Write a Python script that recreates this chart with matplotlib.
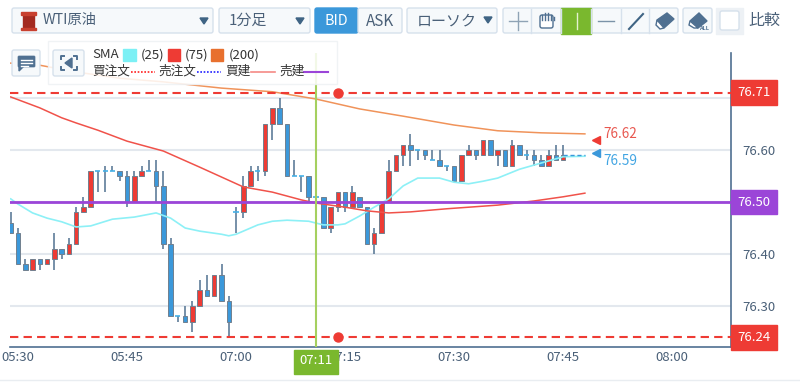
from matplotlib import pyplot as plt
from matplotlib.patches import Rectangle, FancyBboxPatch, Polygon

plt.rcParams['font.family'] = ['Noto Sans CJK JP', 'DejaVu Sans']

# candles, first one is index -1
start_index = -1
opens = [76.46, 76.44, 76.38, 76.37, 76.39, 76.38, 76.39, 76.41, 76.40, 76.42,
         76.48, 76.49, 76.56, 76.56, 76.56, 76.56, 76.55, 76.50, 76.55, 76.56,
         76.56, 76.53, 76.42, 76.28, 76.28, 76.27, 76.30, 76.33, 76.32, 76.36,
         76.31, 76.48, 76.48, 76.53, 76.56, 76.56, 76.65, 76.68, 76.65, 76.55,
         76.55, 76.55, 76.51, 76.51, 76.45, 76.49, 76.52, 76.49, 76.51, 76.49,
         76.42, 76.44, 76.50, 76.56, 76.59, 76.61, 76.60, 76.60, 76.58, 76.58,
         76.57, 76.57, 76.54, 76.59, 76.60, 76.59, 76.62, 76.59, 76.60, 76.57,
         76.61, 76.59, 76.59, 76.58, 76.57, 76.59, 76.58]
closes = [76.44, 76.38, 76.37, 76.39, 76.38, 76.39, 76.41, 76.40, 76.42, 76.48,
          76.49, 76.56, 76.56, 76.56, 76.56, 76.55, 76.50, 76.55, 76.56, 76.56,
          76.53, 76.42, 76.28, 76.28, 76.27, 76.30, 76.33, 76.32, 76.36, 76.31,
          76.27, 76.48, 76.53, 76.56, 76.56, 76.65, 76.68, 76.65, 76.55, 76.55,
          76.55, 76.51, 76.51, 76.45, 76.49, 76.52, 76.49, 76.52, 76.49, 76.42,
          76.44, 76.50, 76.56, 76.59, 76.61, 76.60, 76.60, 76.59, 76.58, 76.57,
          76.57, 76.54, 76.59, 76.60, 76.59, 76.62, 76.59, 76.60, 76.57, 76.61,
          76.59, 76.59, 76.58, 76.57, 76.59, 76.58, 76.59]
highs = [76.48, 76.45, 76.39, 76.39, 76.39, 76.39, 76.44, 76.41, 76.43, 76.49,
         76.51, 76.56, 76.56, 76.57, 76.57, 76.56, 76.56, 76.56, 76.57, 76.58,
         76.58, 76.56, 76.43, 76.28, 76.30, 76.31, 76.35, 76.36, 76.36, 76.38,
         76.32, 76.49, 76.55, 76.57, 76.57, 76.65, 76.68, 76.70, 76.65, 76.58,
         76.55, 76.55, 76.51, 76.51, 76.49, 76.52, 76.52, 76.53, 76.51, 76.49,
         76.45, 76.50, 76.58, 76.59, 76.61, 76.63, 76.60, 76.60, 76.60, 76.60,
         76.57, 76.57, 76.59, 76.61, 76.60, 76.62, 76.62, 76.60, 76.60, 76.62,
         76.61, 76.60, 76.60, 76.59, 76.60, 76.61, 76.61]
lows = [76.44, 76.38, 76.37, 76.37, 76.37, 76.38, 76.37, 76.39, 76.40, 76.42,
        76.48, 76.49, 76.52, 76.52, 76.56, 76.54, 76.49, 76.50, 76.55, 76.56,
        76.50, 76.41, 76.28, 76.27, 76.27, 76.25, 76.30, 76.32, 76.32, 76.31,
        76.24, 76.44, 76.47, 76.53, 76.54, 76.55, 76.62, 76.65, 76.55, 76.55,
        76.52, 76.50, 76.50, 76.45, 76.44, 76.48, 76.48, 76.49, 76.49, 76.42,
        76.40, 76.44, 76.50, 76.56, 76.57, 76.57, 76.58, 76.58, 76.58, 76.57,
        76.56, 76.54, 76.54, 76.59, 76.58, 76.59, 76.59, 76.57, 76.57, 76.57,
        76.59, 76.58, 76.57, 76.57, 76.57, 76.58, 76.58]

sma25_x = [-1, 0, 2, 4, 6, 8, 10, 13, 16, 19, 21, 23, 25, 28, 29, 30, 33, 35, 37, 40, 42, 44, 45, 47, 49, 51, 53,
           55, 58, 60, 62, 64, 66, 69, 72, 75, 78]
sma25 = [76.506, 76.496, 76.479, 76.469, 76.462, 76.452, 76.454, 76.467, 76.471, 76.479, 76.469, 76.450, 76.444,
         76.438, 76.435, 76.438, 76.456, 76.463, 76.465, 76.463, 76.456, 76.456, 76.458, 76.473, 76.490, 76.506,
         76.531, 76.546, 76.546, 76.538, 76.535, 76.540, 76.546, 76.563, 76.575, 76.587, 76.588]
sma75_x = [-1, 3, 6, 8, 11, 15, 20, 25, 28, 31, 35, 39, 41, 45, 48, 51, 54, 59, 66, 71, 75, 78]
sma75 = [76.702, 76.681, 76.662, 76.652, 76.638, 76.617, 76.598, 76.567, 76.548, 76.529, 76.519, 76.504, 76.498,
         76.490, 76.483, 76.479, 76.481, 76.487, 76.494, 76.502, 76.510, 76.517]
sma200_x = [-1, 3, 8, 14, 20, 28, 35, 41, 47, 53, 60, 66, 72, 78]
sma200 = [76.767, 76.763, 76.750, 76.738, 76.731, 76.719, 76.712, 76.698, 76.679, 76.665, 76.648, 76.637, 76.633,
          76.631]

time_ticks = [0, 15, 30, 45, 60, 75, 90]
time_labels = ['05:30', '05:45', '07:00', '07:15', '07:30', '07:45', '08:00']
price_ticks = [76.30, 76.40, 76.60]
grid_prices = [76.30, 76.40, 76.50, 76.60, 76.70]
order_prices = [76.71, 76.24]
position_price = 76.50
ask_price = 76.62
bid_price = 76.59

TEXT = '#4a6078'
EDGE = '#d6e1ec'
FILL = '#f6f9fb'
RED = '#ee3b34'
BLUE = '#3b98da'
PURPLE = '#9b45d8'
GREEN = '#7ab82e'
ICON = '#4f7091'

fig = plt.figure(figsize=(8, 3.83), dpi=100)
ax = fig.add_axes([10 / 800, 36 / 383, 721 / 800, 294 / 383])
ax.set_xlim(-1.1, 98.1)
ax.set_ylim(76.2212, 76.7865)

# grid and axes
for p in grid_prices:
    ax.axhline(p, color='#e3e8ee', lw=1.5, zorder=1)
for side in ['top', 'left']:
    ax.spines[side].set_visible(False)
ax.spines['right'].set_color(ICON)
ax.spines['bottom'].set_color(ICON)
ax.spines['right'].set_linewidth(1.2)
ax.spines['bottom'].set_linewidth(1.2)
ax.yaxis.tick_right()
ax.set_xticks(time_ticks, time_labels)
ax.set_yticks(price_ticks, ['%.2f' % p for p in price_ticks])
ax.tick_params(length=0, labelcolor=TEXT, labelsize=9.5)
ax.tick_params(axis='y', pad=8)
ax.tick_params(axis='x', pad=3)

# candles
for n in range(len(opens)):
    i = start_index + n
    o, c = opens[n], closes[n]
    ax.vlines(i, lows[n], highs[n], color='#5f7d99', lw=1.2, zorder=2)
    if o == c:
        ax.hlines(o, i - 0.35, i + 0.35, color='#45b0e6', lw=1.2, zorder=3)
    else:
        col = RED if c > o else BLUE
        ax.bar(i, abs(c - o), bottom=min(o, c), width=0.62, color=col, edgecolor='#71808f', lw=0.7, zorder=3)

# moving averages
ax.plot(sma25_x, sma25, color='#8df0f6', lw=1.2, zorder=4)
ax.plot(sma75_x, sma75, color='#f0524a', lw=1.1, zorder=4)
ax.plot(sma200_x, sma200, color='#f0935a', lw=1.1, zorder=4)

# orders and position
for p in order_prices:
    ax.axhline(p, color=RED, lw=1.5, dashes=(4, 2.5), zorder=5)
    ax.plot([44], [p], 'o', color=RED, ms=6.5, zorder=6)
ax.axhline(position_price, color=PURPLE, lw=2, zorder=5)
ax.axvline(41, color='#a5d05f', lw=1.5, zorder=6)
ax.plot([75, 78], [bid_price, bid_price], color=BLUE, lw=1, dashes=(3, 2), zorder=5)

# price arrows
ax.plot([79.5], [ask_price], '<', color=RED, ms=6, clip_on=False)
ax.plot([79.5], [bid_price + 0.004], '<', color=BLUE, ms=6, clip_on=False)
ax.annotate('%.2f' % ask_price, (80.5, ask_price), xytext=(0, 4), textcoords='offset points', color='#e8574f',
            fontsize=9.8, va='center')
ax.annotate('%.2f' % bid_price, (80.5, bid_price), xytext=(0, -4), textcoords='offset points', color='#41a5e3',
            fontsize=9.8, va='center')

# price boxes on the right
trans = ax.get_yaxis_transform()
for p, col in [(order_prices[0], RED), (order_prices[1], RED), (position_price, PURPLE)]:
    ax.add_patch(Rectangle((1.0, p - 0.024), 46 / 721, 0.048, transform=trans, color=col, clip_on=False, zorder=7))
    ax.text(1.0 + 23 / 721, p, '%.2f' % p, transform=trans, color='white', fontsize=9.5, ha='center', va='center',
            zorder=8)

# toolbar and overlays in pixel coordinates
ui = fig.add_axes([0, 0, 1, 1], zorder=5)
ui.set_xlim(0, 800)
ui.set_ylim(383, 0)
ui.axis('off')
ui.patch.set_visible(False)


def button(x0, y0, x1, y1, fc=FILL, ec=EDGE, r=2):
    ui.add_patch(FancyBboxPatch((x0 + r, y0 + r), x1 - x0 - 2 * r, y1 - y0 - 2 * r, boxstyle='round,pad=%d' % r,
                                fc=fc, ec=ec, lw=1))


def arrow(x, y):
    ui.add_patch(Polygon([(x - 4, y - 3), (x + 4, y - 3), (x, y + 3)], color='#3f6484'))


def label(x, y, s, size=9, color=TEXT, ha='left'):
    ui.text(x, y, s, fontsize=size, color=color, ha=ha, va='center')


button(12, 8, 213, 33)
ui.add_patch(Rectangle((23, 14), 11, 15, color='#a32a20'))
ui.add_patch(Rectangle((21, 12), 15, 2.5, color='#c8402f'))
ui.add_patch(Rectangle((21, 27.5), 15, 2.5, color='#c8402f'))
label(43, 20, 'WTI原油', 10.3)
arrow(204, 21)

button(219, 8, 310, 33)
label(229, 21, '1分足', 10.8)
arrow(300, 21)

button(315, 8, 358, 33, fc=BLUE, ec=BLUE)
label(336.5, 21, 'BID', 10.3, 'white', 'center')
button(358, 8, 402, 33)
label(380, 21, 'ASK', 11, TEXT, 'center')

button(407, 8, 497, 33)
label(417, 21, 'ローソク', 10.8)
arrow(488, 20)

button(503, 8, 678, 33)
for x in [531, 561, 591, 621, 649]:
    ui.plot([x, x], [9, 33], color=EDGE, lw=1)
ui.add_patch(Rectangle((561, 8), 30, 26, color=GREEN))
ui.plot([577, 577], [13, 29], color='#e4f1d0', lw=1)
ui.plot([509, 527], [21, 21], color='#8fa3b5', lw=1)
ui.plot([518, 518], [12, 30], color='#8fa3b5', lw=1)
# hand
ui.add_patch(FancyBboxPatch((542, 17), 9, 9, boxstyle='round,pad=2', fc='white', ec=ICON, lw=1))
for x, top in [(542, 15), (545, 13), (548, 13), (551, 15), (554, 17)]:
    ui.plot([x, x], [top, 20], color=ICON, lw=1)
ui.plot([598, 614], [21, 21], color='#7b93a8', lw=1)
ui.plot([629, 643], [29, 14], color='#3f6484', lw=1.5)
ui.add_patch(Polygon([(657, 20), (667, 13), (674, 19), (664, 28)], color=ICON))
ui.add_patch(Polygon([(657, 20), (664, 28), (660, 29), (656, 25)], fc='white', ec=ICON, lw=1))
button(683, 8, 712, 33)
ui.add_patch(Polygon([(690, 21), (699, 13), (707, 21), (698, 28)], color=ICON))
ui.add_patch(Polygon([(690, 21), (698, 28), (694, 28), (689, 25)], fc='white', ec=ICON, lw=1))
ui.text(704, 28.5, 'ALL', fontsize=4, color=ICON, ha='center', va='center', weight='bold')
ui.add_patch(Rectangle((716, 8), 27, 26, color='#edf1f5'))
button(720, 11, 739, 30, fc='white')
label(748, 20, '比較', 11.5)

# legend panel
ui.add_patch(Rectangle((48, 41), 289, 43, fc='white', ec='#eef1f4', lw=1, alpha=0.86))
button(12, 50, 40, 76)
ui.add_patch(FancyBboxPatch((19, 57), 15, 9, boxstyle='round,pad=1', fc=ICON, ec=ICON, lw=0.5))
ui.add_patch(Polygon([(19, 66), (24, 66), (19, 71)], color=ICON))
ui.plot([21, 32], [59.5, 59.5], color='white', lw=1)
ui.plot([21, 32], [62.5, 62.5], color='white', lw=1)
ui.plot([21, 28], [65.5, 65.5], color='white', lw=1)
button(53, 50, 84, 76)
for x, y, dx, dy in [(61, 56, 1, 1), (77, 56, -1, 1), (61, 70, 1, -1), (77, 70, -1, -1)]:
    ui.plot([x + 3 * dx, x, x], [y, y, y + 3 * dy], color=ICON, lw=1.4)
ui.add_patch(Polygon([(72, 58), (72, 68), (65, 63)], color=ICON))

label(92, 55, 'SMA', 9.5, '#333333')
ui.add_patch(Rectangle((123, 49), 13, 12, color='#7cf0f5'))
label(141, 55, '(25)', 9.5, '#333333')
ui.add_patch(Rectangle((168, 49), 12, 12, color='#ee3b34'))
label(185, 55, '(75)', 9.5, '#333333')
ui.add_patch(Rectangle((211, 49), 12, 12, color='#e8702e'))
label(229, 55, '(200)', 9.5, '#333333')
label(92, 71, '買注文', 9.1, '#333333')
ui.plot([131, 155], [71.5, 71.5], color='#ff2020', lw=1.2, dashes=(1, 1))
label(158, 71, '売注文', 9.1, '#333333')
ui.plot([197, 221], [71.5, 71.5], color='#2020ff', lw=1.2, dashes=(1, 1))
label(225, 71, '買建', 9.1, '#333333')
ui.plot([251, 275], [71.5, 71.5], color='#f58a85', lw=1.2)
label(279, 71, '売建', 9.1, '#333333')
ui.plot([304, 328], [71.5, 71.5], color=PURPLE, lw=1.5)

# crosshair time box
ui.add_patch(Rectangle((294, 350), 44, 24, color=GREEN))
label(316, 360, '07:11', 9.5, 'white', 'center')

ui.plot([0, 800], [380, 380], color='#e9edf1', lw=1)

plt.savefig('out.png', dpi=100)
